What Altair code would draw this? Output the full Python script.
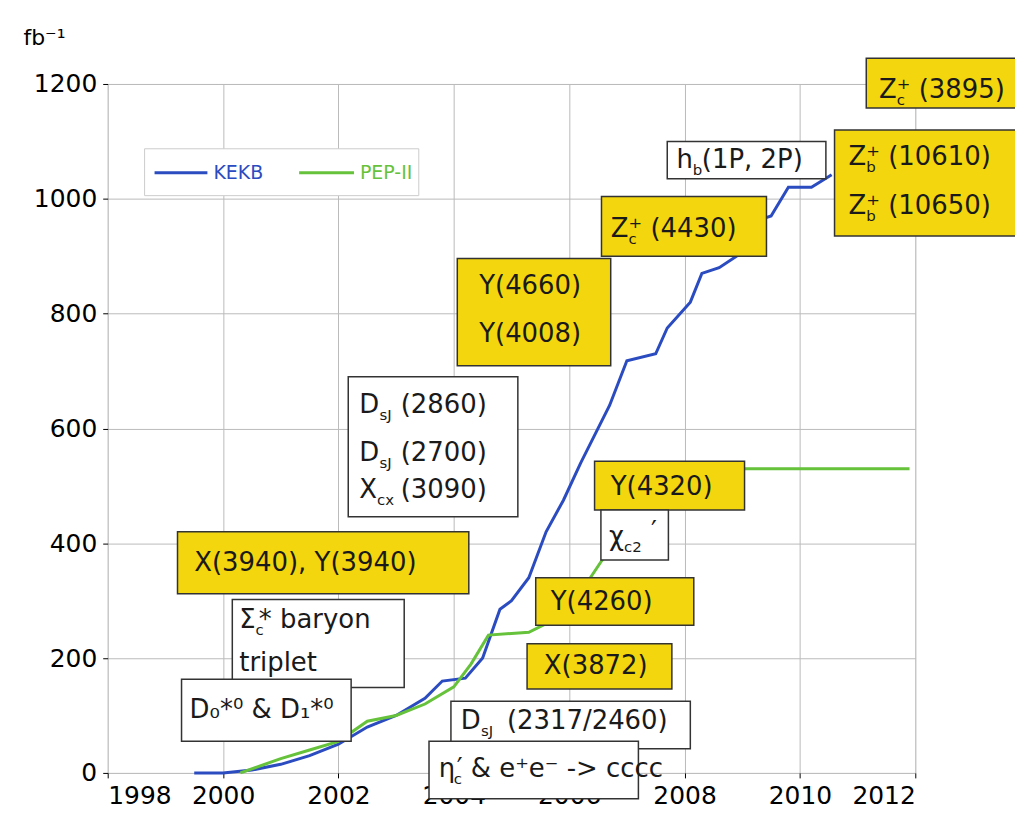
import altair as alt
import pandas as pd

# cumulative integrated luminosity (fb^-1)
kekb_year = [1999.5, 2000.0, 2000.5, 2001.0, 2001.5, 2002.0, 2002.5, 2003.0, 2003.5, 2003.8,
             2004.2, 2004.5, 2004.8, 2005.0, 2005.3, 2005.6, 2005.9, 2006.2, 2006.4, 2006.7,
             2007.0, 2007.5, 2007.7, 2008.1, 2008.3, 2008.6, 2008.9, 2009.2, 2009.5, 2009.8,
             2010.2, 2010.55]
kekb_lumi = [0, 0, 5, 15, 30, 50, 80, 100, 130, 160,
             165, 200, 285, 300, 340, 420, 475, 540, 580, 640,
             718, 730, 775, 820, 870, 880, 900, 960, 970, 1020,
             1020, 1042]
pep_year = [2000.3, 2001.0, 2001.5, 2002.0, 2002.5, 2003.0, 2003.5, 2004.0, 2004.3, 2004.6,
            2005.3, 2005.6, 2005.9, 2006.3, 2006.6, 2007.2, 2007.5, 2011.9]
pep_lumi = [0, 25, 40, 55, 90, 100, 120, 150, 190, 240,
            245, 260, 280, 330, 375, 520, 530, 530]

# annotation boxes: x1, x2, y1, y2, fill
box_x1 = [2011.15, 2007.7, 2010.6, 2006.56, 2004.06, 2002.17, 2006.44, 2006.55, 1999.21, 2000.16, 2005.42, 2005.27, 1999.28, 2003.95, 2003.57]
box_x2 = [2013.9, 2010.45, 2013.9, 2009.42, 2006.72, 2005.11, 2009.04, 2007.72, 2004.26, 2003.14, 2008.16, 2007.78, 2002.22, 2008.1, 2007.2]
box_y1 = [1245, 1100, 1120, 1004, 896, 690, 543, 458, 420, 302, 340, 225, 163, 125, 55]
box_y2 = [1158, 1035, 935, 900, 709, 446, 458, 371, 312, 149, 257, 146, 55, 42, -45]
box_fill = ["#f3d60e", "white", "#f3d60e", "#f3d60e", "#f3d60e", "white", "#f3d60e", "white",
            "#f3d60e", "white", "#f3d60e", "#f3d60e", "white", "white", "white"]

# label pieces: main-size text
main_x = [2011.37, 2011.68, 2007.86, 2008.3, 2010.84, 2011.15, 2010.84, 2011.15, 2006.72, 2007.03,
          2004.44, 2004.44, 2002.36, 2003.08, 2002.36, 2003.08, 2002.36, 2003.08, 2006.72, 2006.69,
          2007.42, 1999.5, 2000.28, 2000.62, 2000.28, 2005.68, 2005.56, 1999.42, 2004.12, 2004.92,
          2003.74, 2004.05]
main_y = [1190, 1190, 1068, 1068, 1073, 1073, 987, 987, 948, 948,
          848, 765, 640, 640, 558, 558, 492, 492, 498, 411,
          420, 366, 267, 267, 192, 298, 186, 109, 90, 90,
          7, 7]
main_t = ["Z", "⁺ (3895)", "h", "(1P, 2P)", "Z", "⁺ (10610)", "Z", "⁺ (10650)", "Z", "⁺ (4430)",
          "Y(4660)", "Y(4008)", "D", "(2860)", "D", "(2700)", "X", "(3090)", "Y(4320)", "χ",
          "′", "X(3940), Y(3940)", "Σ", "* baryon", "triplet", "Y(4260)", "X(3872)", "D₀*⁰ & D₁*⁰", "D", "(2317/2460)",
          "η", "′ & e⁺e⁻ -> cccc"]
# subscripts
sub_x = [2011.68, 2008.14, 2011.15, 2011.15, 2007.03, 2002.71, 2002.71, 2002.67, 2006.95, 2000.56, 2004.47, 2004.0]
sub_y = [1190, 1068, 1073, 987, 948, 640, 558, 492, 411, 267, 90, 7]
sub_t = ["c", "b", "b", "b", "c", "sJ", "sJ", "cx", "c2", "c", "sJ", "c"]

BLUE = "#2b4cc0"
GREEN = "#66c23a"
FONT = "DejaVu Sans"

lines = pd.concat([
    pd.DataFrame({"year": kekb_year, "lumi": kekb_lumi, "ring": "KEKB"}),
    pd.DataFrame({"year": pep_year, "lumi": pep_lumi, "ring": "PEP-II"}),
])
boxes = pd.DataFrame({"x1": box_x1, "x2": box_x2, "y1": box_y1, "y2": box_y2, "fill": box_fill})
mains = pd.DataFrame({"x": main_x, "y": main_y, "t": main_t})
subs = pd.DataFrame({"x": sub_x, "y": sub_y, "t": sub_t})

xs = alt.Scale(domain=[1998, 2012], nice=False)
ys = alt.Scale(domain=[0, 1200], nice=False)

line = alt.Chart(lines).mark_line(strokeWidth=3).encode(
    x=alt.X("year:Q", scale=xs, title=None,
            axis=alt.Axis(values=list(range(1998, 2013, 2)), format="d", labelFontSize=25,
                          labelColor="black", gridColor="#bbbbbb", tickColor="black",
                          domain=False, labelFont=FONT, labelPadding=6)),
    y=alt.Y("lumi:Q", scale=ys, title="fb⁻¹",
            axis=alt.Axis(values=list(range(0, 1201, 200)), format="d", labelFontSize=25,
                          labelColor="black", gridColor="#bbbbbb", tickColor="black",
                          domain=False, labelFont=FONT, titleAngle=0, titleFontSize=22,
                          titleFontWeight="normal", titleFont=FONT, titleX=-85, titleY=-35,
                          titleAlign="left", labelPadding=6)),
    color=alt.Color("ring:N", scale=alt.Scale(domain=["KEKB", "PEP-II"], range=[BLUE, GREEN]),
                    legend=None),
)

rects = alt.Chart(boxes).mark_rect(stroke="#333333", strokeWidth=1.5).encode(
    x="x1:Q", x2="x2:Q", y="y1:Q", y2="y2:Q",
    fill=alt.Fill("fill:N", scale=None),
)

main_text = alt.Chart(mains).mark_text(align="left", baseline="middle", fontSize=26,
                                       font=FONT, color="#1a1a1a").encode(
    x="x:Q", y="y:Q", text="t:N")
sub_text = alt.Chart(subs).mark_text(align="left", baseline="middle", fontSize=15, dy=10,
                                     font=FONT, color="#1a1a1a").encode(
    x="x:Q", y="y:Q", text="t:N")

# legend drawn by hand
one = pd.DataFrame({"a": [0]})
leg_box = alt.Chart(one).mark_rect(fill="white", stroke="#cccccc", strokeWidth=1).encode(
    x=alt.value(37), x2=alt.value(312), y=alt.value(65), y2=alt.value(112))
kekb_rule = alt.Chart(one).mark_rule(strokeWidth=3, color=BLUE).encode(
    x=alt.value(47), x2=alt.value(100), y=alt.value(89))
pep_rule = alt.Chart(one).mark_rule(strokeWidth=3, color=GREEN).encode(
    x=alt.value(192), x2=alt.value(247), y=alt.value(89))
kekb_lbl = alt.Chart(pd.DataFrame({"t": ["KEKB"]})).mark_text(
    align="left", baseline="middle", fontSize=19, color=BLUE, font=FONT).encode(
    x=alt.value(106), y=alt.value(89), text="t:N")
pep_lbl = alt.Chart(pd.DataFrame({"t": ["PEP-II"]})).mark_text(
    align="left", baseline="middle", fontSize=19, color=GREEN, font=FONT).encode(
    x=alt.value(253), y=alt.value(89), text="t:N")

chart = (line + rects + main_text + sub_text + leg_box + kekb_rule + pep_rule + kekb_lbl + pep_lbl).properties(
    width=810, height=691,
    autosize=alt.AutoSizeParams(type="none"),
    padding={"left": 100, "top": 75, "right": 100, "bottom": 40},
).configure_view(stroke="black", strokeWidth=1.5).configure(background="white")

chart.save("out.html", embed_options={"renderer": "svg", "actions": False})
